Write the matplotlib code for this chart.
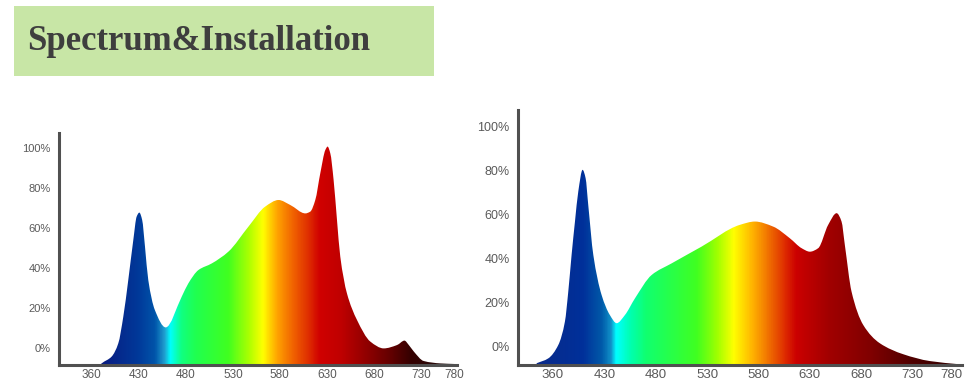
import numpy as np
import matplotlib
matplotlib.use("Agg")
import matplotlib.pyplot as plt
from matplotlib.patches import Rectangle, PathPatch
from matplotlib.path import Path
from matplotlib.colors import LinearSegmentedColormap, to_rgb

# ---------------- data ----------------
title_text = "Spectrum&Installation"
tick_labels = ["360", "430", "480", "530", "580", "630", "680", "730", "780"]
tick_wl = [360, 430, 480, 530, 580, 630, 680, 730, 780]
ytick_vals = [0, 20, 40, 60, 80, 100]
ytick_labels = ["0%", "20%", "40%", "60%", "80%", "100%"]

# left spectrum (wavelength nm, relative %)
left_wl = [372, 374.5, 389.4, 399.3, 406.8, 414.2, 421.7, 426.7, 430.5, 433.5, 436.5,
           440, 447, 458.5, 475.6, 482.6, 493.4, 507.6, 525.3, 546.6, 564.4, 578.6,
           591.1, 607.1, 612.4, 617.7, 623, 628.4, 630.8, 633.7, 637.2, 640.8, 644.3,
           651.4, 662.1, 676.3, 690.5, 704.8, 712.6, 717.2, 722.6, 734.2, 759, 780]
left_val = [-8.5, -7.7, -4.3, 2.3, 15.7, 34, 54, 65.7, 67.7, 64, 50.7,
            34, 19, 10.3, 25.7, 32.3, 39, 42.3, 48.2, 60.7, 70.7, 74,
            71.5, 67.3, 68.2, 74, 87.3, 99, 100.7, 97.3, 84, 64, 45.7,
            27.3, 14, 3.2, -0.2, 1.5, 3.7, 1.5, -1.8, -6.5, -7.7, -8.0]

# right spectrum
right_wl = [337.8, 353.6, 367.3, 376.3, 380.9, 385.4, 390, 394.5, 400.4, 404.5, 408.1,
            415, 426.3, 435.4, 442, 450, 459.8, 476, 495.5, 524.6, 561.9, 576.5,
            594.3, 610.5, 621.9, 630, 638.1, 647.8, 656, 660.8, 664, 670.5, 681.9,
            698, 720.8, 751.8, 790.5]
right_val = [-7.4, -5.2, 0.9, 11.5, 25.2, 41.8, 57, 70.6, 80.5, 76.7, 64.5,
             41.8, 23.6, 14.5, 10.8, 14.5, 22.1, 32.7, 38, 45.6, 55.5, 57,
             54.7, 49.4, 44.9, 43.3, 44.9, 55.5, 60.8, 57, 46.4, 25.2, 10,
             1.7, -3.3, -6.4, -7.9]

# spectral colour stops (wavelength, colour)
left_stop_wl = [372, 430, 447, 457, 463, 475, 490, 525, 548, 562, 578, 595, 610, 623,
                645, 673, 700, 720, 780]
left_stop_col = ["#0a1a80", "#003a9a", "#0055aa", "#20a0d0", "#00ffff", "#10ff80",
                 "#20ff50", "#40ff20", "#b0ff00", "#ffff00", "#ffa000", "#f06000",
                 "#e03000", "#d00000", "#c00000", "#900000", "#600000", "#350000",
                 "#201010"]
right_stop_wl = [338, 400, 425, 436, 441, 455, 470, 520, 540, 556, 575, 590, 605, 617,
                 650, 690, 730, 790]
right_stop_col = ["#0a2a8a", "#00309a", "#0058a8", "#1090c8", "#00ffff", "#00ffb0",
                  "#10ff70", "#40ff20", "#a0ff00", "#ffff00", "#ffb000", "#f07000",
                  "#e03000", "#cc0000", "#a00000", "#800000", "#500000", "#300000"]

# ---------------- helpers ----------------
def wl_to_pos(wl, twl, tpos):
    wl = np.asarray(wl, dtype=float)
    pos = np.interp(wl, twl, tpos)
    lo = wl < twl[0]
    pos[lo] = tpos[0] + (wl[lo] - twl[0]) * (tpos[1] - tpos[0]) / (twl[1] - twl[0])
    hi = wl > twl[-1]
    pos[hi] = tpos[-1] + (wl[hi] - twl[-1]) * (tpos[-1] - tpos[-2]) / (twl[-1] - twl[-2])
    return pos


def pchip_slopes(x, y):
    h = np.diff(x)
    d = np.diff(y) / h
    m = np.zeros_like(y)
    m[0], m[-1] = d[0], d[-1]
    for k in range(1, len(x) - 1):
        if d[k - 1] * d[k] <= 0:
            m[k] = 0.0
        else:
            w1 = 2 * h[k] + h[k - 1]
            w2 = h[k] + 2 * h[k - 1]
            m[k] = (w1 + w2) / (w1 / d[k - 1] + w2 / d[k])
    return m


def smooth_area_path(x, y, base):
    """Closed area path whose top edge is drawn as cubic Bezier segments."""
    m = pchip_slopes(x, y)
    verts = [(x[0], base), (x[0], y[0])]
    codes = [Path.MOVETO, Path.LINETO]
    for i in range(len(x) - 1):
        h = x[i + 1] - x[i]
        verts += [(x[i] + h / 3, y[i] + m[i] * h / 3),
                  (x[i + 1] - h / 3, y[i + 1] - m[i + 1] * h / 3),
                  (x[i + 1], y[i + 1])]
        codes += [Path.CURVE4] * 3
    verts += [(x[-1], base), (x[0], base)]
    codes += [Path.LINETO, Path.CLOSEPOLY]
    return Path(verts, codes)


def draw_spectrum(ax, wl, val, stop_wl, stop_col, tpos, xlim, ylim, fs_y, fs_x):
    x = wl_to_pos(wl, tick_wl, tpos)
    y = np.asarray(val, dtype=float)
    ax.set_xlim(*xlim)
    ax.set_ylim(*ylim)
    sp = wl_to_pos(stop_wl, tick_wl, tpos)
    fr = np.clip((sp - xlim[0]) / (xlim[1] - xlim[0]), 0, 1)
    cols = [to_rgb(c) for c in stop_col]
    entries = [(0.0, cols[0])] + list(zip(fr, cols)) + [(1.0, cols[-1])]
    cleaned, last = [], -1
    for f, c in entries:
        if f <= last:
            f = last + 1e-6
        cleaned.append((min(f, 1.0), c))
        last = f
    cleaned[-1] = (1.0, cleaned[-1][1])
    cmap = LinearSegmentedColormap.from_list("spec", cleaned)
    grad = np.linspace(0, 1, 1000).reshape(1, -1)
    im = ax.imshow(grad, cmap=cmap, extent=[xlim[0], xlim[1], ylim[0], ylim[1]],
                   aspect="auto", interpolation="bilinear", zorder=1)
    patch = PathPatch(smooth_area_path(x, y, ylim[0]), transform=ax.transData,
                      facecolor="none", edgecolor="none")
    ax.add_patch(patch)
    im.set_clip_path(patch)

    for s in ["top", "right"]:
        ax.spines[s].set_visible(False)
    for s in ["left", "bottom"]:
        ax.spines[s].set_color("#505050")
        ax.spines[s].set_linewidth(2.2)
        ax.spines[s].set_zorder(5)
    ax.set_xticks(tpos)
    ax.set_xticklabels(tick_labels)
    ax.set_yticks(ytick_vals)
    ax.set_yticklabels(ytick_labels)
    ax.tick_params(length=0, colors="#5a5a5a")
    ax.tick_params(axis="y", pad=6, labelsize=fs_y)
    ax.tick_params(axis="x", pad=3, labelsize=fs_x)
    for lab in ax.get_xticklabels() + ax.get_yticklabels():
        lab.set_family(["Liberation Sans", "DejaVu Sans"])
    ax.set_facecolor("white")


# ---------------- figure ----------------
W, H = 974, 390
fig = plt.figure(figsize=(W / 100, H / 100), dpi=100)
fig.patch.set_facecolor("white")

fig.patches.append(Rectangle((14 / W, 1 - 76 / H), 420 / W, 70 / H,
                             transform=fig.transFigure, facecolor="#c8e6a6",
                             edgecolor="none", zorder=0))
fig.text(27 / W, 1 - 41 / H, title_text, fontsize=25, fontweight="bold",
         family=["Liberation Serif", "DejaVu Serif"], color="#3e3e3e",
         ha="left", va="center")

axL = fig.add_axes([59 / W, 1 - 365 / H, (457 - 59) / W, (365 - 133) / H])
draw_spectrum(axL, left_wl, left_val, left_stop_wl, left_stop_col,
              [0, 1, 2, 3, 4, 5, 6, 7, 7.72], (-0.7, 7.77), (-8.5, 107.5), 8, 8.5)

axR = fig.add_axes([518 / W, 1 - 365 / H, (962 - 518) / W, (365 - 110) / H])
draw_spectrum(axR, right_wl, right_val, right_stop_wl, right_stop_col,
              [0, 1, 2, 3, 4, 5, 6, 7, 7.76], (-0.68, 7.96), (-8.2, 107.7), 9, 9.5)

fig.savefig("out.png", dpi=100, facecolor="white")
